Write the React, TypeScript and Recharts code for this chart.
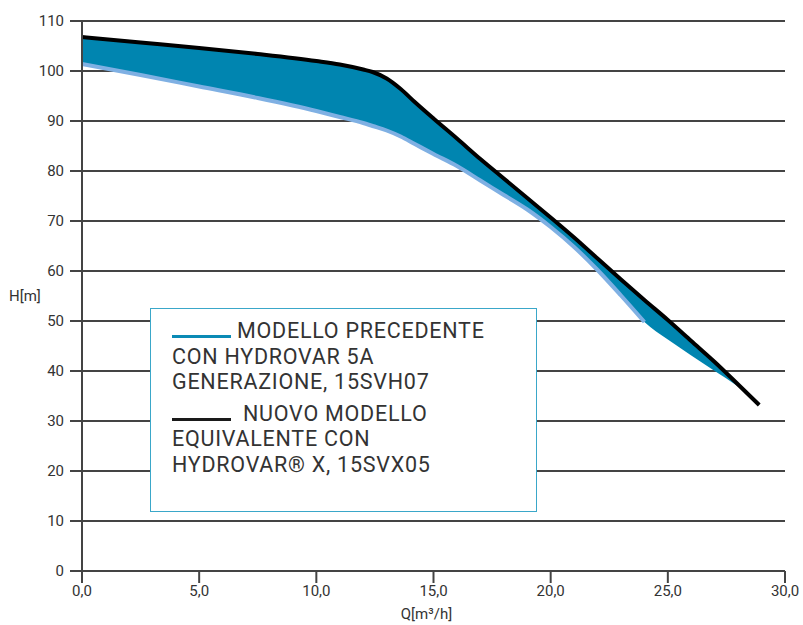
import {
  Area,
  CartesianGrid,
  ComposedChart,
  Label,
  Legend,
  Line,
  XAxis,
  YAxis,
} from "recharts";

// portata Q [m³/h]
const flow = [0, 2.5, 5, 7.5, 10, 11, 12, 12.4, 13, 13.6, 14.2, 15, 16, 17, 18, 19, 20, 21, 22, 23, 24, 25, 26, 27, 28, 28.9];
// nuovo modello 15SVX05 (curva nera)
const headNew = [106.8, 105.7, 104.6, 103.4, 102.0, 101.3, 100.3, 99.8, 98.5, 96.4, 93.8, 90.5, 86.5, 82.4, 78.5, 74.6, 70.7, 66.7, 62.5, 58.3, 54.2, 50.2, 46.0, 41.8, 37.3, 33.2];
// modello precedente 15SVH07 (curva azzurra)
const headOld = [101.4, 99.2, 96.9, 94.6, 92.0, 90.8, 89.6, 89.0, 88.1, 86.9, 85.4, 83.4, 81, 78.1, 75.2, 72.3, 68.8, 64.8, 60.2, 55.1, 49.8, 46.3, 43.1, 40, 36.9, 33.6];
const oldLineEnd = 24;

const xTicks = [0, 5, 10, 15, 20, 25, 30];
const yTicks = [0, 10, 20, 30, 40, 50, 60, 70, 80, 90, 100, 110];

const data = flow.map((q, i) => ({ q, nuovo: headNew[i], precedente: headOld[i] }));

const FONT = "Roboto, 'Noto Sans', sans-serif";
const TEXT = "#333333";
const AXIS = "#444444";

function LegendBox() {
  const line = { lineHeight: "25.5px", whiteSpace: "nowrap" as const };
  const dash = (color: string, gap: number) => (
    <span
      style={{
        display: "inline-block",
        width: 59,
        height: 3,
        background: color,
        marginRight: gap,
        verticalAlign: "baseline",
      }}
    />
  );
  return (
    <div
      style={{
        boxSizing: "border-box",
        width: 387,
        height: 204,
        border: "1.5px solid #3aa7c9",
        background: "#fff",
        padding: "9px 0 0 21px",
        fontFamily: FONT,
        fontSize: 21.5,
        letterSpacing: "0.75px",
        color: TEXT,
        textAlign: "left",
      }}
    >
      <div style={line}>{dash("#0a8ab5", 6)}MODELLO PRECEDENTE</div>
      <div style={line}>CON HYDROVAR 5A</div>
      <div style={line}>GENERAZIONE, 15SVH07</div>
      <div style={{ ...line, marginTop: 6 }}>{dash("#1a1a1a", 12)}NUOVO MODELLO</div>
      <div style={line}>EQUIVALENTE CON</div>
      <div style={line}>HYDROVAR® X, 15SVX05</div>
    </div>
  );
}

export default function App() {
  return (
    <div style={{ position: "fixed", left: 0, top: 0, width: 803, height: 625, background: "#fff" }}>
      <ComposedChart
        width={803}
        height={625}
        data={data}
        margin={{ top: 21, right: 18, bottom: 0, left: 0 }}
        style={{ fontFamily: FONT }}
      >
        <CartesianGrid horizontal vertical={false} stroke={AXIS} strokeWidth={2} />
        <XAxis
          dataKey="q"
          type="number"
          domain={[0, 30]}
          ticks={xTicks}
          height={54}
          tickSize={12}
          tickMargin={2}
          tickFormatter={(v: number) => v.toFixed(1).replace(".", ",")}
          tick={{ fill: TEXT, fontSize: 15 }}
          axisLine={{ stroke: AXIS, strokeWidth: 2 }}
          tickLine={{ stroke: AXIS, strokeWidth: 2 }}
        >
          <Label value="Q[m³/h]" position="insideBottom" offset={6} dx={-7} fill={TEXT} fontSize={15} />
        </XAxis>
        <YAxis
          type="number"
          domain={[0, 110]}
          ticks={yTicks}
          width={82}
          tickSize={12}
          tickMargin={6}
          tick={{ fill: TEXT, fontSize: 15 }}
          axisLine={{ stroke: AXIS, strokeWidth: 2 }}
          tickLine={{ stroke: AXIS, strokeWidth: 2 }}
        >
          <Label value="H[m]" position="insideLeft" offset={9} fill={TEXT} fontSize={15} />
        </YAxis>
        <Area
          type="monotone"
          dataKey={(d: { precedente: number; nuovo: number }) => [d.precedente, d.nuovo]}
          stroke="none"
          fill="#0085b0"
          fillOpacity={1}
          isAnimationActive={false}
        />
        <Line
          type="monotone"
          dataKey={(d: { q: number; precedente: number }) => (d.q <= oldLineEnd ? d.precedente : null)}
          stroke="#7fb0e3"
          strokeWidth={4}
          dot={false}
          isAnimationActive={false}
        />
        <Line
          type="monotone"
          dataKey="nuovo"
          stroke="#000"
          strokeWidth={4}
          dot={false}
          isAnimationActive={false}
        />
        <Legend
          layout="vertical"
          align="center"
          verticalAlign="middle"
          wrapperStyle={{ left: 150, top: 308, width: 387, height: 204 }}
          content={() => <LegendBox />}
        />
      </ComposedChart>
    </div>
  );
}
